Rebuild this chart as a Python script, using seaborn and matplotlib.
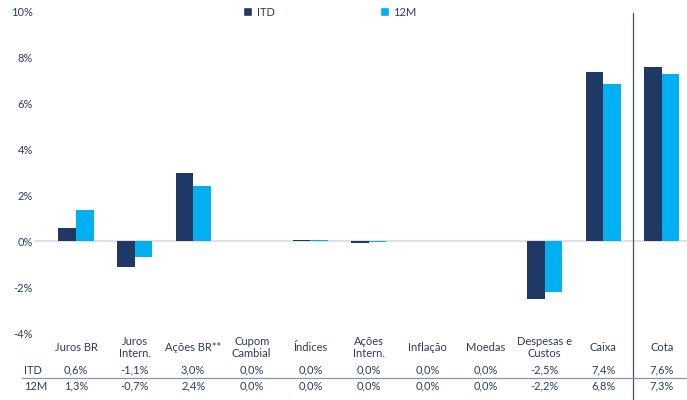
import pandas as pd
import matplotlib.pyplot as plt
import seaborn as sns
from matplotlib.lines import Line2D
from matplotlib.patches import Patch

# === data ===
categories = ['Juros BR', 'Juros\nIntern.', 'Ações BR**', 'Cupom\nCambial', 'Índices',
              'Ações\nIntern.', 'Inflação', 'Moedas', 'Despesas e\nCustos', 'Caixa', 'Cota']
series = ['ITD', '12M']
itd_bars = [0.6, -1.1, 3.0, 0.0, 0.05, -0.06, 0.0, 0.0, -2.5, 7.4, 7.6]
m12_bars = [1.35, -0.7, 2.4, 0.0, 0.05, -0.05, 0.0, 0.0, -2.2, 6.85, 7.3]
itd_table = [0.6, -1.1, 3.0, 0.0, 0.0, 0.0, 0.0, 0.0, -2.5, 7.4, 7.6]
m12_table = [1.3, -0.7, 2.4, 0.0, 0.0, 0.0, 0.0, 0.0, -2.2, 6.8, 7.3]
y_ticks = [-4, -2, 0, 2, 4, 6, 8, 10]

colors = {'ITD': '#203864', '12M': '#00B0F0'}
txt = '#2E3B5B'
fs = 8

df = pd.DataFrame({
    'categoria': categories * 2,
    'serie': ['ITD'] * len(categories) + ['12M'] * len(categories),
    'valor': itd_bars + m12_bars,
})

sns.set_style('white')
plt.rcParams['font.family'] = ['Lato', 'DejaVu Sans']

fig = plt.figure(figsize=(6.87, 4.0), dpi=100)
ax = fig.add_axes([0.068, 0.1675, 0.932, 0.8025])

sns.barplot(data=df, x='categoria', y='valor', hue='serie', palette=colors,
            order=categories, hue_order=series, width=0.6, gap=0, saturation=1,
            linewidth=0, ax=ax, legend=False)

ax.set_xlim(-0.5, 10.43)
ax.set_ylim(-4, 10)
ax.set_yticks(y_ticks)
ax.set_yticklabels([f'{t}%' for t in y_ticks], color=txt, fontsize=fs)
ax.tick_params(axis='y', length=0, pad=10)
ax.set_xticks([])
ax.set_xlabel('')
ax.set_ylabel('')
for s in ax.spines.values():
    s.set_visible(False)

# zero line
ax.axhline(0, xmin=-0.018, xmax=1, color='#e0e0e0', lw=1.5, clip_on=False, zorder=0)
# separator before "Cota"
ax.axvline(9.5, ymin=-0.21, ymax=0.997, color='#44546A', lw=0.9, clip_on=False)

# category labels + table rows under the plot
trans = ax.get_xaxis_transform()
for i, cat in enumerate(categories):
    ax.text(i, -0.045, cat, transform=trans, ha='center', va='center',
            fontsize=fs, color=txt, linespacing=1.15)
    ax.text(i, -0.115, f'{itd_table[i]:.1f}%'.replace('.', ','), transform=trans,
            ha='center', va='center', fontsize=fs, color=txt)
    ax.text(i, -0.165, f'{m12_table[i]:.1f}%'.replace('.', ','), transform=trans,
            ha='center', va='center', fontsize=fs, color=txt)

fig.text(24 / 687, 1 - 370 / 400, 'ITD', ha='left', va='center', fontsize=fs, color=txt)
fig.text(24 / 687, 1 - 386 / 400, '12M', ha='left', va='center', fontsize=fs, color=txt)
fig.add_artist(Line2D([22 / 687, 1], [1 - 378 / 400] * 2, color='#8496B0', lw=0.9))

handles = [Patch(facecolor=colors[s], label=s) for s in series]
fig.legend(handles=handles, loc='center', bbox_to_anchor=(330 / 687, 1 - 12 / 400),
           ncol=2, frameon=False, fontsize=fs, labelcolor=txt,
           handlelength=0.8, handleheight=0.8, handletextpad=0.4, columnspacing=9.5)

fig.savefig('out.png', dpi=100)
